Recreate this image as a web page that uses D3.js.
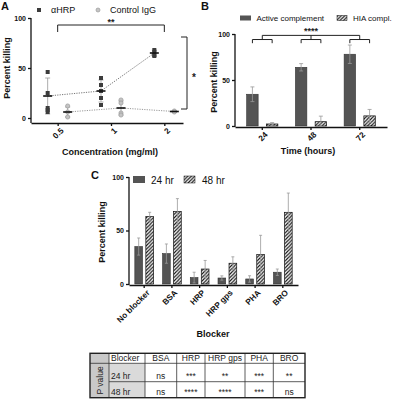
<!DOCTYPE html>
<html lang="en">
<head>
<meta charset="UTF-8">
<title>Percent killing panels</title>
<style>
  body { margin: 0; background: #fff; }
  svg { font-family: Arial, "Liberation Sans", sans-serif; display: block; }
  .axis path, .axis line { stroke: #111; stroke-width: 1.3; fill: none; }
  .axis text { font-size: 7px; font-weight: bold; fill: #111; }
  .axis.xax text { font-size: 8.2px; }
  .title { font-size: 9px; font-weight: bold; fill: #111; }
  .panel { font-size: 11px; font-weight: bold; fill: #111; }
  .legend { fill: #111; }
  .err { stroke: #999; stroke-width: 0.8; fill: none; }
  .bracket { stroke: #222; stroke-width: 1; fill: none; }
  .star { font-weight: bold; fill: #222; }
  .tbl text { font-size: 8.5px; fill: #222; }
</style>
<script src="https://d3js.org/d3.v7.min.js"></script>
</head>
<body>
<script>
// ---- panel A data
const concLabels = ["0.5", "1", "2"];
const hrpPoints = [[46, 25, 10, 8, 6], [40, 33, 27, 20, 13], [68, 66, 63, 62]];
const hrpMean = [22, 27, 65];
const hrpSD = [18, 11, 3];
const ctrlPoints = [[12, 6, 1], [18, 15, 5, 3], [7, 6]];
const ctrlMean = [6, 10, 6.5];
const ctrlSD = [5, 7, 1];

// ---- panel B data
const timeLabels = ["24", "48", "72"];
const activeVals = [34.5, 63.8, 78];
const activeErr = [8, 4, 10];
const hiaVals = [2.2, 4.7, 11];
const hiaErr = [1.5, 6, 7];

// ---- panel C data
const blockers = ["No blocker", "BSA", "HRP", "HRP gps", "PHA", "BRO"];
const kill24 = [35, 28.4, 6, 5.6, 4.7, 11];
const err24 = [8, 9, 5, 2, 3, 3];
const kill48 = [63, 67.8, 14, 19.4, 27.5, 67];
const err48 = [4, 12, 8, 6, 18, 18];

// ---- table data
const tableCols = ["Blocker", "BSA", "HRP", "HRP gps", "PHA", "BRO"];
const p24 = ["ns", "***", "**", "***", "**"];
const p48 = ["ns", "****", "****", "***", "ns"];

const svg = d3.select("body").append("svg")
  .attr("width", 393)
  .attr("height", 400);

const defs = svg.append("defs");
const hatch = defs.append("pattern")
  .attr("id", "hatch")
  .attr("patternUnits", "userSpaceOnUse")
  .attr("width", 3.5)
  .attr("height", 3.5);
hatch.append("rect").attr("width", 3.5).attr("height", 3.5).attr("fill", "#fff");
hatch.append("path")
  .attr("d", "M0,3.5L3.5,0M-1,1L1,-1M2.5,4.5L4.5,2.5")
  .attr("stroke", "#111")
  .attr("stroke-width", 1.1);

const darkFill = "#545454";

function errBar(g, x, y0, y1, w) {
  g.append("path").attr("class", "err")
    .attr("d", `M${x},${y0}V${y1}M${x - w},${y1}H${x + w}M${x - w},${y0}H${x + w}`);
}

function yTitle(x, y, txt) {
  svg.append("text").attr("class", "title")
    .attr("transform", `translate(${x},${y}) rotate(-90)`)
    .attr("text-anchor", "middle")
    .text(txt);
}

function rotateTicks(g) {
  g.selectAll(".tick text")
    .attr("text-anchor", "end")
    .attr("dx", "-0.2em")
    .attr("dy", "0.5em")
    .attr("transform", "rotate(-45)");
}

// =================== PANEL A ===================
const yA = d3.scaleLinear().domain([0, 100]).range([118, 18]);
const xA = d3.scaleLinear().domain([-0.5, 2.35]).range([31, 183]);
const axA = 123;
const dodge = 10;

svg.append("text").attr("class", "panel").attr("x", 1).attr("y", 10).text("A");

const gyA = svg.append("g").attr("class", "axis")
  .attr("transform", "translate(31,0)")
  .call(d3.axisLeft(yA).tickValues([0, 50, 100]).tickSize(3).tickPadding(2));
gyA.select(".domain").attr("d", `M0,${yA(100)}V${axA}`);

const gxA = svg.append("g").attr("class", "axis xax")
  .attr("transform", `translate(0,${axA})`)
  .call(d3.axisBottom(xA).tickValues([0, 1, 2]).tickFormat(i => concLabels[i]).tickSize(3).tickSizeOuter(0));
rotateTicks(gxA);

yTitle(10, 68, "Percent killing");
svg.append("text").attr("class", "title")
  .attr("x", 110).attr("y", 155).attr("text-anchor", "middle")
  .text("Concentration (mg/ml)");

const gA = svg.append("g");

// dotted mean lines
const lineA = d3.line().x(d => d[0]).y(d => d[1]);
gA.append("path")
  .attr("d", lineA(hrpMean.map((m, i) => [xA(i) - dodge, yA(m)])))
  .attr("fill", "none").attr("stroke", "#777").attr("stroke-width", 1)
  .attr("stroke-dasharray", "1.2,1.2");
gA.append("path")
  .attr("d", lineA(ctrlMean.map((m, i) => [xA(i) + dodge, yA(m)])))
  .attr("fill", "none").attr("stroke", "#999").attr("stroke-width", 1)
  .attr("stroke-dasharray", "1.2,1.2");

hrpMean.forEach((m, i) => errBar(gA, xA(i) - dodge, yA(Math.max(0, m - hrpSD[i])), yA(m + hrpSD[i]), 2.5));
ctrlMean.forEach((m, i) => errBar(gA, xA(i) + dodge, yA(Math.max(0, m - ctrlSD[i])), yA(m + ctrlSD[i]), 2.5));

hrpPoints.forEach((pts, i) => {
  gA.selectAll(null).data(pts).enter().append("rect")
    .attr("x", xA(i) - dodge - 2).attr("y", d => yA(d) - 2)
    .attr("width", 4).attr("height", 4)
    .attr("fill", "#3c3c3c");
});
ctrlPoints.forEach((pts, i) => {
  gA.selectAll(null).data(pts).enter().append("circle")
    .attr("cx", xA(i) + dodge).attr("cy", d => yA(d))
    .attr("r", 2.1)
    .attr("fill", "#c4c4c4").attr("stroke", "#999").attr("stroke-width", 0.7);
});

// mean bars
hrpMean.forEach((m, i) => {
  gA.append("line").attr("x1", xA(i) - dodge - 4.5).attr("x2", xA(i) - dodge + 4.5)
    .attr("y1", yA(m)).attr("y2", yA(m)).attr("stroke", "#111").attr("stroke-width", 1.6);
});
ctrlMean.forEach((m, i) => {
  gA.append("line").attr("x1", xA(i) + dodge - 4.5).attr("x2", xA(i) + dodge + 4.5)
    .attr("y1", yA(m)).attr("y2", yA(m)).attr("stroke", "#111").attr("stroke-width", 1.6);
});

// significance brackets
gA.append("path").attr("class", "bracket")
  .attr("d", `M${xA(0)},${yA(86)}V${yA(93)}H${xA(2)}V${yA(86)}`);
gA.append("text").attr("class", "star").attr("font-size", 9)
  .attr("x", xA(1)).attr("y", 25).attr("text-anchor", "middle").text("**");
gA.append("path").attr("class", "bracket")
  .attr("d", `M181,${yA(81)}H187V${yA(9)}H181`);
gA.append("text").attr("class", "star").attr("font-size", 10)
  .attr("x", 192).attr("y", 81).text("*");

// legend A
svg.append("rect").attr("x", 37).attr("y", 8).attr("width", 4).attr("height", 4).attr("fill", "#3c3c3c");
svg.append("text").attr("class", "legend").attr("font-size", 9).attr("x", 51).attr("y", 13).text("αHRP");
svg.append("circle").attr("cx", 98).attr("cy", 10).attr("r", 2)
  .attr("fill", "#c4c4c4").attr("stroke", "#999").attr("stroke-width", 0.7);
svg.append("text").attr("class", "legend").attr("font-size", 9).attr("x", 110).attr("y", 13).text("Control IgG");

// =================== PANEL B ===================
const yB = d3.scaleLinear().domain([0, 100]).range([126, 34]);
const xB = d3.scaleBand().domain(timeLabels).range([235, 387]).paddingInner(0.36).paddingOuter(0.24);
const xB1 = d3.scaleBand().domain(["active", "hia"]).range([0, xB.bandwidth()]).paddingInner(0.42);
const axB = 127;

svg.append("text").attr("class", "panel").attr("x", 201).attr("y", 10).text("B");

const gyB = svg.append("g").attr("class", "axis")
  .attr("transform", "translate(235,0)")
  .call(d3.axisLeft(yB).tickValues([0, 50, 100]).tickSize(3).tickPadding(2));
gyB.select(".domain").attr("d", `M0,${yB(100)}V${axB}`);

const gxB = svg.append("g").attr("class", "axis xax")
  .attr("transform", `translate(0,${axB})`)
  .call(d3.axisBottom(xB).tickSize(3).tickSizeOuter(0));
rotateTicks(gxB);

yTitle(217, 82, "Percent killing");
svg.append("text").attr("class", "title")
  .attr("x", 308).attr("y", 154).attr("text-anchor", "middle")
  .text("Time (hours)");

const gB = svg.append("g");
timeLabels.forEach((t, i) => {
  const xa = xB(t) + xB1("active");
  const xh = xB(t) + xB1("hia");
  const bw = xB1.bandwidth();
  gB.append("rect").attr("x", xa).attr("y", yB(activeVals[i]))
    .attr("width", bw).attr("height", yB(0) - yB(activeVals[i]))
    .attr("fill", darkFill).attr("stroke", "#333").attr("stroke-width", 0.6);
  gB.append("rect").attr("x", xh).attr("y", yB(hiaVals[i]))
    .attr("width", bw).attr("height", yB(0) - yB(hiaVals[i]))
    .attr("fill", "url(#hatch)").attr("stroke", "#111").attr("stroke-width", 0.7);
  errBar(gB, xa + bw / 2, yB(activeVals[i] - activeErr[i]), yB(activeVals[i] + activeErr[i]), 2);
  errBar(gB, xh + bw / 2, yB(Math.max(0, hiaVals[i] - hiaErr[i])), yB(hiaVals[i] + hiaErr[i]), 2);
  // sub-bracket
  gB.append("path").attr("class", "bracket")
    .attr("d", `M${xa + bw / 2},${yB(90)}V${yB(94)}H${xh + bw / 2}V${yB(90)}M${xB(t) + xB.bandwidth() / 2},${yB(94)}V${yB(98.5)}`);
});
gB.append("path").attr("class", "bracket")
  .attr("d", `M${xB("24") + xB.bandwidth() / 2},${yB(98.5)}H${xB("72") + xB.bandwidth() / 2}`);
gB.append("text").attr("class", "star").attr("font-size", 9)
  .attr("x", xB("48") + xB.bandwidth() / 2).attr("y", 34).attr("text-anchor", "middle").text("****");

// legend B
svg.append("rect").attr("x", 240).attr("y", 15.5).attr("width", 11).attr("height", 5).attr("fill", darkFill);
svg.append("text").attr("class", "legend").attr("font-size", 8).attr("x", 256.5).attr("y", 21).text("Active complement");
svg.append("rect").attr("x", 337).attr("y", 15.5).attr("width", 10).attr("height", 5)
  .attr("fill", "url(#hatch)").attr("stroke", "#111").attr("stroke-width", 0.5);
svg.append("text").attr("class", "legend").attr("font-size", 8).attr("x", 353).attr("y", 21).text("HIA compl.");

// =================== PANEL C ===================
const yC = d3.scaleLinear().domain([0, 100]).range([284, 177]);
const xC = d3.scaleBand().domain(blockers).range([129, 298]).paddingInner(0.325).paddingOuter(0.21);
const xC1 = d3.scaleBand().domain(["h24", "h48"]).range([0, xC.bandwidth()]).paddingInner(0.3);
const axC = 285;

svg.append("text").attr("class", "panel").attr("x", 91).attr("y", 179).text("C");

const gyC = svg.append("g").attr("class", "axis")
  .attr("transform", "translate(129,0)")
  .call(d3.axisLeft(yC).tickValues([0, 50, 100]).tickSize(3).tickPadding(2));
gyC.select(".domain").attr("d", `M0,${yC(100)}V${axC}`);

const gxC = svg.append("g").attr("class", "axis xax")
  .attr("transform", `translate(0,${axC})`)
  .call(d3.axisBottom(xC).tickSize(3).tickSizeOuter(0));
rotateTicks(gxC);

yTitle(105, 232, "Percent killing");
svg.append("text").attr("class", "title")
  .attr("x", 213).attr("y", 337).attr("text-anchor", "middle")
  .text("Blocker");

const gC = svg.append("g");
blockers.forEach((b, i) => {
  const x24 = xC(b) + xC1("h24");
  const x48 = xC(b) + xC1("h48");
  const bw = xC1.bandwidth();
  gC.append("rect").attr("x", x24).attr("y", yC(kill24[i]))
    .attr("width", bw).attr("height", yC(0) - yC(kill24[i]))
    .attr("fill", darkFill).attr("stroke", "#333").attr("stroke-width", 0.6);
  gC.append("rect").attr("x", x48).attr("y", yC(kill48[i]))
    .attr("width", bw).attr("height", yC(0) - yC(kill48[i]))
    .attr("fill", "url(#hatch)").attr("stroke", "#111").attr("stroke-width", 0.7);
  errBar(gC, x24 + bw / 2, yC(Math.max(0, kill24[i] - err24[i])), yC(kill24[i] + err24[i]), 1.5);
  errBar(gC, x48 + bw / 2, yC(Math.max(0, kill48[i] - err48[i])), yC(kill48[i] + err48[i]), 1.5);
});

// legend C
svg.append("rect").attr("x", 133).attr("y", 176).attr("width", 12).attr("height", 7).attr("fill", darkFill);
svg.append("text").attr("class", "legend").attr("font-size", 10).attr("x", 151).attr("y", 184).text("24 hr");
svg.append("rect").attr("x", 184).attr("y", 176).attr("width", 11).attr("height", 7)
  .attr("fill", "url(#hatch)").attr("stroke", "#111").attr("stroke-width", 0.5);
svg.append("text").attr("class", "legend").attr("font-size", 10).attr("x", 202).attr("y", 184).text("48 hr");

// =================== TABLE ===================
const colW = [19, 36, 31.7, 28.3, 40, 28.3, 31.7];
const colX = [90];
colW.forEach(w => colX.push(colX[colX.length - 1] + w));
const rowY = [353.3, 363.3, 381.7, 397.7];
const tbl = svg.append("g").attr("class", "tbl");

// backgrounds
tbl.append("rect").attr("x", colX[0]).attr("y", rowY[0])
  .attr("width", colW[0]).attr("height", rowY[3] - rowY[0]).attr("fill", "#c9c9c9");
tbl.append("rect").attr("x", colX[1]).attr("y", rowY[1])
  .attr("width", colW[1]).attr("height", rowY[3] - rowY[1]).attr("fill", "#dadada");

// grid lines
colX.slice(1, -1).forEach(x => {
  tbl.append("line").attr("x1", x).attr("x2", x).attr("y1", rowY[0]).attr("y2", rowY[3])
    .attr("stroke", "#333").attr("stroke-width", 0.8);
});
rowY.slice(1, -1).forEach(y => {
  tbl.append("line").attr("x1", colX[1]).attr("x2", colX[7]).attr("y1", y).attr("y2", y)
    .attr("stroke", "#333").attr("stroke-width", 0.8);
});
tbl.append("line").attr("x1", colX[0]).attr("x2", colX[1]).attr("y1", rowY[1]).attr("y2", rowY[1])
  .attr("stroke", "#333").attr("stroke-width", 0.8);
tbl.append("rect").attr("x", colX[0]).attr("y", rowY[0])
  .attr("width", colX[7] - colX[0]).attr("height", rowY[3] - rowY[0])
  .attr("fill", "none").attr("stroke", "#222").attr("stroke-width", 1.4);

// header
tableCols.forEach((c, j) => {
  const cx = j === 0 ? colX[1] + 2 : (colX[j + 1] + colX[j + 2]) / 2;
  tbl.append("text").attr("x", cx).attr("y", rowY[1] - 2)
    .attr("text-anchor", j === 0 ? "start" : "middle").text(c);
});
// rows
[["24 hr", p24], ["48 hr", p48]].forEach(([lab, vals], r) => {
  const by = rowY[r + 2] - 2.5;
  tbl.append("text").attr("x", colX[1] + 2).attr("y", by).text(lab);
  vals.forEach((v, j) => {
    tbl.append("text").attr("x", (colX[j + 2] + colX[j + 3]) / 2).attr("y", by)
      .attr("text-anchor", "middle")
      .attr("font-size", v === "ns" ? 8.5 : 7)
      .text(v);
  });
});
tbl.append("text")
  .attr("transform", `translate(${(colX[0] + colX[1]) / 2 + 3},${(rowY[1] + rowY[3]) / 2}) rotate(-90)`)
  .attr("text-anchor", "middle").text("P value");
</script>
</body>
</html>
